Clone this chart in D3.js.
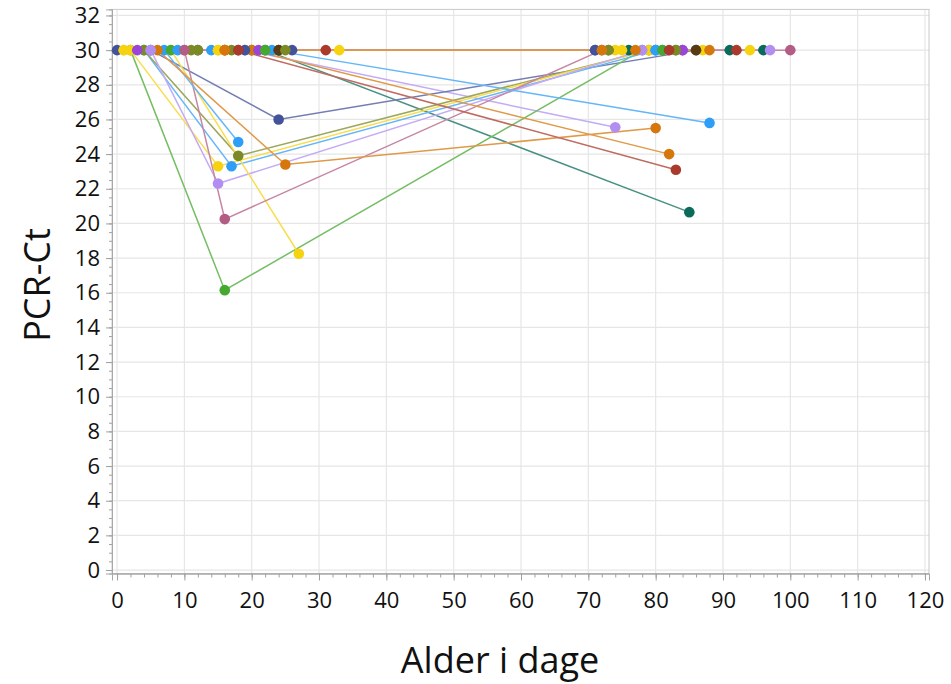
<!DOCTYPE html>
<html>
<head>
<meta charset="utf-8">
<script src="https://cdn.jsdelivr.net/npm/d3@7"></script>
<style>
  body { margin: 0; background: #fff; }
  svg { display: block; font-family: "Open Sans", "Noto Sans", sans-serif; }
</style>
</head>
<body>
<svg id="chart" width="951" height="684"></svg>
<script>
// ---- data: one entry per animal, age in days and PCR-Ct (30 = negative) ----
var ages = [
  [12, 76], [20, 91], [24, 96],
  [22, 85], [19, 74], [5, 24, 86], [2, 16, 78], [4, 17, 80], [4, 18, 79],
  [2, 15, 79], [5, 15, 78], [8, 27], [10, 16, 72], [7, 18], [6, 25, 80],
  [20, 82], [18, 83], [23, 88],
  [0, 71], [1, 74], [1, 87], [3, 84], [8, 81], [9, 80], [11, 73], [12, 83],
  [14, 80], [15, 75], [17, 73], [19, 26, 71], [21, 84], [22, 81], [24, 86],
  [25, 83], [18, 82], [16, 31, 92], [15, 33, 94], [5, 97], [16, 77],
  [10, 100], [16, 72, 88]
];
var ct = [
  [30, 30], [30, 30], [30, 30],
  [30, 20.65], [30, 25.55], [30, 26, 30], [30, 16.15, 30], [30, 23.3, 30], [30, 23.9, 30],
  [30, 23.3, 30], [30, 22.3, 30], [30, 18.25], [30, 20.25, 30], [30, 24.7], [30, 23.4, 25.5],
  [30, 24.0], [30, 23.1], [30, 25.8],
  [30, 30], [30, 30], [30, 30], [30, 30], [30, 30], [30, 30], [30, 30], [30, 30],
  [30, 30], [30, 30], [30, 30], [30, 30, 30], [30, 30], [30, 30], [30, 30],
  [30, 30], [30, 30], [30, 30, 30], [30, 30, 30], [30, 30], [30, 30],
  [30, 30], [30, 30, 30]
];
var group = [
  'teal', 'teal', 'teal',
  'teal', 'lavender', 'navy', 'green', 'blue', 'olive',
  'yellow', 'lavender', 'yellow', 'mauve', 'blue', 'orange',
  'orange', 'red', 'blue',
  'navy', 'yellow', 'yellow', 'purple', 'green', 'blue', 'olive', 'olive',
  'blue', 'yellow', 'olive', 'navy', 'purple', 'green', 'brown',
  'olive', 'red', 'red', 'yellow', 'lavender', 'orange',
  'mauve', 'orange'
];
var xTicks = d3.range(0, 121, 10);
var yTicks = d3.range(0, 33, 2);

// colours
var colour = d3.scaleOrdinal()
  .domain(['navy','yellow','purple','olive','lavender','orange','blue','green','mauve','red','brown','teal'])
  .range(['#44529a','#f5d30f','#9b45d8','#7c8a25','#b28ef2','#d6770c','#2f9ef7','#45a82f','#b35d84','#aa3a2b','#5a3a12','#0b6b5b']);
// lines are drawn in a paler shade of the marker colour
var lineColour = function(k){ return d3.interpolateRgb(colour(k), '#ffffff')(0.25); };

var svg = d3.select('#chart');
var plotL = 112, plotR = 929, plotT = 9.4, plotB = 573.5;

var x = d3.scaleLinear().domain([-0.75, 120.6]).range([plotL, plotR]);
var y = d3.scaleLinear().domain([-0.2, 32.35]).range([plotB, plotT]);

// grid
svg.append('g').selectAll('line').data(xTicks).enter().append('line')
  .attr('x1', d => x(d)).attr('x2', d => x(d))
  .attr('y1', plotT).attr('y2', plotB)
  .attr('stroke', '#e6e6e6').attr('stroke-width', 1.2);
svg.append('g').selectAll('line').data(yTicks).enter().append('line')
  .attr('x1', plotL).attr('x2', plotR)
  .attr('y1', d => y(d)).attr('y2', d => y(d))
  .attr('stroke', '#e6e6e6').attr('stroke-width', 1.2);

// frame
svg.append('rect')
  .attr('x', plotL).attr('y', plotT)
  .attr('width', plotR - plotL).attr('height', plotB - plotT)
  .attr('fill', 'none').attr('stroke', '#c9c9c9');

// axes
var xMinor = svg.append('g').attr('transform', 'translate(0,' + plotB + ')')
  .call(d3.axisBottom(x).tickValues(d3.range(0, 121, 2)).tickSize(4).tickFormat(''));
var xAxis = svg.append('g').attr('transform', 'translate(0,' + plotB + ')')
  .call(d3.axisBottom(x).tickValues(xTicks).tickSize(7).tickPadding(12));
var yMinor = svg.append('g').attr('transform', 'translate(' + plotL + ',0)')
  .call(d3.axisLeft(y).tickValues(d3.range(0, 32.1, 0.5)).tickSize(3).tickFormat(''));
var yAxis = svg.append('g').attr('transform', 'translate(' + plotL + ',0)')
  .call(d3.axisLeft(y).tickValues(yTicks).tickSize(6).tickPadding(6));

[xMinor, xAxis, yMinor, yAxis].forEach(function(g){
  g.selectAll('.domain').attr('stroke', '#a8a8a8');
  g.selectAll('.tick line').attr('stroke', '#a0a0a0');
  g.selectAll('text').attr('font-size', 22).attr('fill', '#111')
    .attr('font-family', '"Open Sans","Noto Sans",sans-serif');
});

// series: all lines first, then markers on top
var series = ages.map(function(a, i){
  return { key: group[i], pts: a.map(function(d, j){ return [d, ct[i][j]]; }) };
});

var line = d3.line().x(d => x(d[0])).y(d => y(d[1]));

svg.append('g').selectAll('path').data(series).enter().append('path')
  .attr('d', d => line(d.pts))
  .attr('fill', 'none')
  .attr('stroke', d => lineColour(d.key))
  .attr('stroke-width', 1.5);

var dots = svg.append('g').selectAll('g').data(series).enter().append('g');
dots.selectAll('circle').data(d => d.pts.map(p => ({ p: p, key: d.key }))).enter().append('circle')
  .attr('cx', d => x(d.p[0]))
  .attr('cy', d => y(d.p[1]))
  .attr('r', 5.3)
  .attr('fill', d => colour(d.key));

// axis titles
svg.append('text')
  .attr('transform', 'translate(50,285) rotate(-90)')
  .attr('text-anchor', 'middle')
  .attr('font-size', 36).attr('fill', '#111')
  .text('PCR-Ct');
svg.append('text')
  .attr('x', 500).attr('y', 673)
  .attr('text-anchor', 'middle')
  .attr('font-size', 36).attr('fill', '#111')
  .text('Alder i dage');
</script>
</body>
</html>
